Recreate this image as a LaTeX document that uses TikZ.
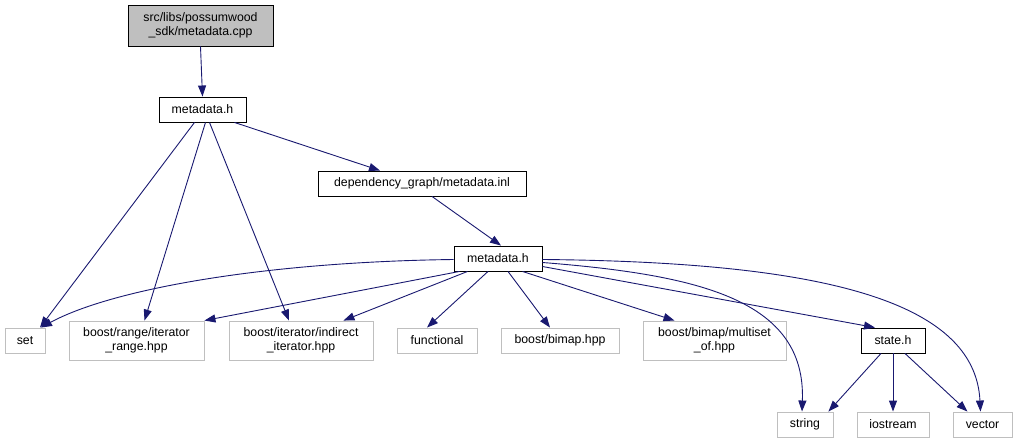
\documentclass[tikz,border=0pt]{standalone}
\usepackage{fontspec}
\setmainfont{Liberation Sans}
\usetikzlibrary{arrows.meta}
\definecolor{edgeblue}{HTML}{191970}
\definecolor{extgray}{HTML}{BFBFBF}
\begin{document}
\begin{tikzpicture}[x=1pt,y=-1pt,
  box/.style={draw=black,fill=white,inner sep=0pt,align=center,font=\fontsize{12.3}{13.5}\selectfont,line width=0.9pt},
  ext/.style={box,draw=extgray},
  edge/.style={draw=edgeblue,line width=0.9pt,-{Triangle[length=11pt,width=8pt]}}]
\useasboundingbox (0,0) rectangle (1017,443);
\node[box,fill=extgray,minimum width=145pt,minimum height=41pt] (cpp) at (200.5,25.5) {src/libs/possumwood\\\_sdk/metadata.cpp};
\node[box,minimum width=87pt,minimum height=25pt] (mh1) at (202.5,109.5) {metadata.h};
\node[box,minimum width=208pt,minimum height=25pt] (inl) at (422,183.5) {dependency\_graph/metadata.inl};
\node[box,minimum width=88pt,minimum height=25pt] (mh2) at (498,258.5) {metadata.h};
\node[ext,minimum width=40pt,minimum height=25pt] (set) at (25,340.5) {set};
\node[ext,minimum width=135pt,minimum height=39pt] (rng) at (136.5,340.5) {boost/range/iterator\\\_range.hpp};
\node[ext,minimum width=144pt,minimum height=39pt] (ind) at (301,340.5) {boost/iterator/indirect\\\_iterator.hpp};
\node[ext,minimum width=80pt,minimum height=25pt] (fun) at (437,340.5) {functional};
\node[ext,minimum width=118pt,minimum height=25pt] (bim) at (560,340.5) {boost/bimap.hpp};
\node[ext,minimum width=143pt,minimum height=39pt] (mso) at (714.5,340.5) {boost/bimap/multiset\\\_of.hpp};
\node[box,minimum width=64pt,minimum height=25pt] (st) at (893,340.5) {state.h};
\node[ext,minimum width=56pt,minimum height=25pt] (str) at (805,424.5) {string};
\node[ext,minimum width=72pt,minimum height=25pt] (ios) at (893,424.5) {iostream};
\node[ext,minimum width=59pt,minimum height=25pt] (vec) at (982.5,424.5) {vector};

\draw[edge] (cpp.south) -- (mh1.north);
\draw[edge] ([xshift=-8pt]mh1.south) -- ([xshift=15pt]set.north);
\draw[edge] ([xshift=3pt]mh1.south) -- ([xshift=8pt]rng.north);
\draw[edge] ([xshift=7pt]mh1.south) -- ([xshift=-12pt]ind.north);
\draw[edge] ([xshift=-12pt]mh1.south east) -- ([xshift=-42pt]inl.north);
\draw[edge] ([xshift=10pt]inl.south) -- ([xshift=3pt]mh2.north);
\draw[edge] ([yshift=-1pt]mh2.west) .. controls (260,262) and (110,290) .. ([xshift=16pt]set.north);
\draw[edge] ([xshift=6pt]mh2.south west) -- (rng.north east);
\draw[edge] ([xshift=14pt]mh2.south west) -- ([xshift=-30pt]ind.north east);
\draw[edge] ([xshift=-10pt]mh2.south) -- ([xshift=-10pt]fun.north);
\draw[edge] ([xshift=10pt]mh2.south) -- ([xshift=-10pt]bim.north);
\draw[edge] ([xshift=-20pt]mh2.south east) -- ([xshift=-40pt]mso.north);
\draw[edge] ([yshift=-8pt]mh2.east) -- ([xshift=-18pt]st.north);
\draw[edge] ([yshift=-4pt]mh2.east) .. controls (700,275) and (806,300) .. ([xshift=-3pt]str.north);
\draw[edge] ([yshift=-1pt]mh2.east) .. controls (820,262) and (975,300) .. ([xshift=-2pt]vec.north);
\draw[edge] ([xshift=-12pt]st.south) -- ([xshift=-5pt]str.north east);
\draw[edge] (st.south) -- (ios.north);
\draw[edge] ([xshift=12pt]st.south) -- ([xshift=-15pt]vec.north);
\end{tikzpicture}
\end{document}
